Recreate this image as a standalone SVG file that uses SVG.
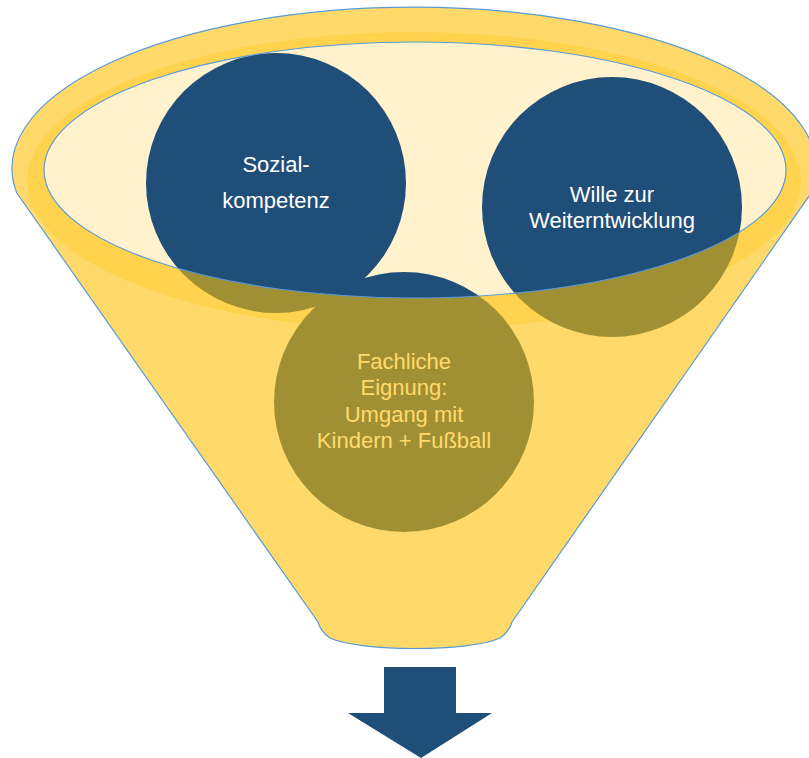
<svg xmlns="http://www.w3.org/2000/svg" width="809" height="758" viewBox="0 0 809 758">
  <defs>
    <style>
      .circle { fill: #1F4E79; }
      .label { font-family: "Liberation Sans", Arial, sans-serif; font-size: 22px; fill: #FFFFFF; text-anchor: middle; }
      .outline { fill: none; stroke: #5B9BD5; stroke-width: 1.2; }
    </style>
  </defs>
  <rect width="809" height="758" fill="#FFFFFF"/>

  <!-- funnel interior and rim band -->
  <g id="funnel-back">
    <ellipse cx="415" cy="170" rx="371" ry="128" fill="#FFF2CC"/>
    <path d="M 27,181 A 387 149 0 1 1 801,181 A 387 149 0 1 1 27,181 Z M 44,170 A 371 128 0 1 0 786,170 A 371 128 0 1 0 44,170 Z" fill="#FFC000" fill-opacity="0.27" fill-rule="evenodd"/>
  </g>

  <g id="node-sozial">
    <circle class="circle" cx="276" cy="183" r="130"/>
    <text class="label" x="276" y="172">Sozial-</text>
    <text class="label" x="276" y="208">kompetenz</text>
  </g>

  <g id="node-wille">
    <circle class="circle" cx="612" cy="207" r="130"/>
    <text class="label" x="612" y="202">Wille zur</text>
    <text class="label" x="612" y="228">Weiterntwicklung</text>
  </g>

  <g id="node-fachlich">
    <circle class="circle" cx="404" cy="402" r="130"/>
    <text class="label" x="404" y="369">Fachliche</text>
    <text class="label" x="404" y="395">Eignung:</text>
    <text class="label" x="404" y="422">Umgang mit</text>
    <text class="label" x="404" y="448">Kindern + Fußball</text>
  </g>

  <!-- funnel body (semi-transparent, over circles) -->
  <g id="funnel">
    <path d="M 16.8,193 A 402 161 0 1 1 811.2,193 L 512,622 Q 509,632 500,638 C 470,652 360,652 330,638 Q 321,632 318,622 Z M 44,170 A 371 128 0 1 0 786,170 A 371 128 0 1 0 44,170 Z" fill="#FFC000" fill-opacity="0.58" fill-rule="evenodd"/>
    <path class="outline" d="M 16.8,193 A 402 161 0 1 1 811.2,193 L 512,622 Q 509,632 500,638 C 470,652 360,652 330,638 Q 321,632 318,622 Z"/>
    <ellipse class="outline" cx="415" cy="170" rx="371" ry="128"/>
  </g>

  <g id="connectors">
    <polygon points="384,667 456,667 456,713 492,713 421,758 348,713 384,713" fill="#1F4E79"/>
  </g>
</svg>
